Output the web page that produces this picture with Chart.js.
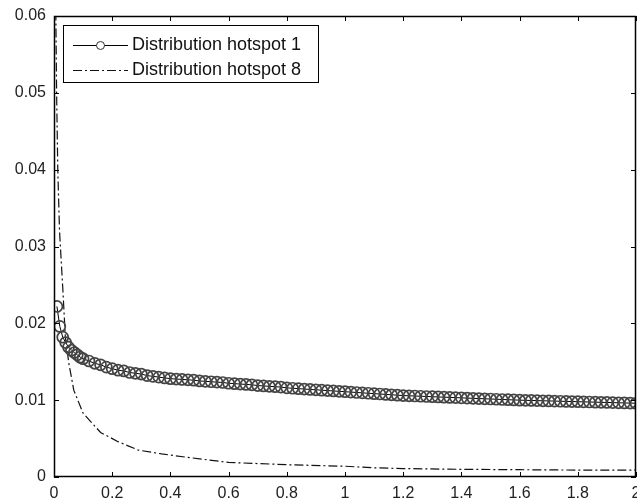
<!DOCTYPE html>
<html>
<head>
<meta charset="utf-8">
<script src="https://cdn.jsdelivr.net/npm/chart.js@4/dist/chart.umd.min.js"></script>
<style>
html,body{margin:0;padding:0;background:#fff;overflow:hidden;}
#wrap{width:637px;height:502px;overflow:hidden;}
</style>
</head>
<body>
<div id="wrap"><canvas id="c" width="637" height="502"></canvas></div>
<script>
// ---- data ----
const seriesNames = ["Distribution hotspot 1", "Distribution hotspot 8"];

const hotspot1X = [0.01,0.02,0.03,0.04,0.05,0.06,0.07,0.08,0.09,0.10,
  0.12,0.14,0.16,0.18,0.20,0.22,0.24,0.26,0.28,0.30,0.32,0.34,0.36,0.38,0.40,
  0.42,0.44,0.46,0.48,0.50,0.52,0.54,0.56,0.58,0.60,0.62,0.64,0.66,0.68,0.70,
  0.72,0.74,0.76,0.78,0.80,0.82,0.84,0.86,0.88,0.90,0.92,0.94,0.96,0.98,1.00,
  1.02,1.04,1.06,1.08,1.10,1.12,1.14,1.16,1.18,1.20,1.22,1.24,1.26,1.28,1.30,
  1.32,1.34,1.36,1.38,1.40,1.42,1.44,1.46,1.48,1.50,1.52,1.54,1.56,1.58,1.60,
  1.62,1.64,1.66,1.68,1.70,1.72,1.74,1.76,1.78,1.80,1.82,1.84,1.86,1.88,1.90,
  1.92,1.94,1.96,1.98,2.00];
const hotspot1Y = [0.0222,0.0196,0.0182,0.0175,0.0169,0.0165,0.0162,0.0159,0.0156,0.0154,
  0.0151,0.0148,0.0146,0.0143,0.0141,0.0139,0.0138,0.0136,0.0135,0.0134,0.0132,0.0131,0.0130,0.0129,0.0128,
  0.01275,0.0127,0.01265,0.0126,0.0125,0.01245,0.0124,0.01235,0.0123,0.0122,0.01215,0.0121,0.01205,0.0120,0.0119,
  0.01185,0.0118,0.01175,0.0117,0.0116,0.01155,0.0115,0.01145,0.0114,0.01135,0.0113,0.01125,0.0112,0.01115,0.0111,
  0.01105,0.0110,0.01095,0.0109,0.01085,0.0108,0.01075,0.0107,0.01065,0.0106,0.01057,0.01054,0.01051,0.01048,0.01045,
  0.01042,0.01039,0.01036,0.01033,0.0103,0.01027,0.01024,0.01021,0.01018,0.01015,0.01012,0.01009,0.01006,0.01003,0.0100,
  0.00998,0.00996,0.00994,0.00992,0.0099,0.00988,0.00986,0.00984,0.00982,0.0098,0.00978,0.00976,0.00974,0.00972,0.0097,
  0.00968,0.00966,0.00964,0.00962,0.0096];

const hotspot8X = [0.005,0.009,0.013,0.019,0.025,0.031,0.039,0.051,0.068,0.10,0.16,0.22,0.29,0.37,0.47,0.60,0.80,1.00,1.10,1.20,1.40,1.60,1.80,2.00];
const hotspot8Y = [0.065,0.050,0.040,0.032,0.028,0.024,0.0182,0.0148,0.0113,0.0083,0.0058,0.0046,0.0035,0.0030,0.0025,0.0019,0.0016,0.0014,0.0012,0.0011,0.0010,0.00095,0.0009,0.0009];

const xTicks = [0,0.2,0.4,0.6,0.8,1,1.2,1.4,1.6,1.8,2];
const xTickLabels = ["0","0.2","0.4","0.6","0.8","1","1.2","1.4","1.6","1.8","2"];
const yTicks = [0,0.01,0.02,0.03,0.04,0.05,0.06];
const yTickLabels = ["0","0.01","0.02","0.03","0.04","0.05","0.06"];

const dashDot = [9,3,2,3];
const tickFont = {family:"'Liberation Sans', Arial, sans-serif", size:16};
const legendFont = "18px 'Liberation Sans', Arial, sans-serif";

const frameTicks = {
  id:'frameTicks',
  afterDatasetsDraw(chart){
    const {ctx, chartArea:a, scales:{x,y}} = chart;
    ctx.save();
    ctx.strokeStyle = '#000';
    ctx.lineWidth = 1;
    ctx.beginPath();
    const L = 5;
    xTicks.forEach(v=>{
      const px = Math.round(x.getPixelForValue(v))+0.5;
      ctx.moveTo(px, a.bottom); ctx.lineTo(px, a.bottom-L);
      ctx.moveTo(px, a.top); ctx.lineTo(px, a.top+L);
    });
    yTicks.forEach(v=>{
      const py = Math.round(y.getPixelForValue(v))+0.5;
      ctx.moveTo(a.left, py); ctx.lineTo(a.left+L, py);
      ctx.moveTo(a.right, py); ctx.lineTo(a.right-L, py);
    });
    ctx.stroke();
    ctx.lineWidth = 1.5;
    ctx.strokeRect(a.left+0.5, a.top+0.5, a.right-a.left-1, a.bottom-a.top-1);
    // legend
    const bx=63.5, by=25.5, bw=255, bh=57;
    ctx.fillStyle='#fff';
    ctx.fillRect(bx,by,bw,bh);
    ctx.lineWidth=1;
    ctx.strokeStyle='#000';
    ctx.strokeRect(bx,by,bw,bh);
    const rows=[45,70];
    ctx.font = legendFont;
    ctx.textBaseline='middle';
    ctx.fillStyle='#111';
    chart.data.datasets.forEach((ds,i)=>{
      const ry = rows[i]+0.5;
      ctx.save();
      ctx.strokeStyle = ds.borderColor;
      ctx.lineWidth = ds.borderWidth;
      ctx.setLineDash(ds.borderDash||[]);
      ctx.beginPath(); ctx.moveTo(73,ry); ctx.lineTo(128,ry); ctx.stroke();
      ctx.restore();
      if (ds.pointRadius>0){
        ctx.beginPath(); ctx.arc(100.5,ry,4,0,Math.PI*2);
        ctx.fillStyle='#fff'; ctx.fill();
        ctx.strokeStyle='#333'; ctx.lineWidth=1; ctx.stroke();
        ctx.fillStyle='#111';
      }
      ctx.fillText(ds.label, 132, ry);
    });
    ctx.restore();
  }
};

new Chart(document.getElementById('c'), {
  type:'scatter',
  data:{
    datasets:[
      {label:seriesNames[0], data:hotspot1X.map((v,i)=>({x:v,y:hotspot1Y[i]})),
       showLine:true, borderColor:'#000', borderWidth:1, pointRadius:5.5, pointBorderColor:'#444',
       pointBackgroundColor:'rgba(0,0,0,0)', pointBorderWidth:1.7, order:1},
      {label:seriesNames[1], data:hotspot8X.map((v,i)=>({x:v,y:hotspot8Y[i]})),
       showLine:true, borderColor:'#111', borderWidth:1.2, borderDash:dashDot, pointRadius:0, order:2}
    ]
  },
  options:{
    responsive:false, animation:false, devicePixelRatio:1,
    layout:{autoPadding:false, padding:{top:16,right:1,left:0,bottom:0}},
    plugins:{legend:{display:false}, tooltip:{enabled:false}},
    scales:{
      x:{type:'linear', min:0, max:2,
        afterBuildTicks(s){ s.ticks = xTicks.map(v=>({value:v})); },
        afterFit(s){ s.height = 25; s.paddingLeft=0; s.paddingRight=0; },
        grid:{display:false, drawTicks:false}, border:{display:false},
        ticks:{font:tickFont, color:'#222', padding:7, maxRotation:0, autoSkip:false,
          callback:(v)=>{const k=xTicks.indexOf(v); return k>=0?xTickLabels[k]:'';}}},
      y:{type:'linear', min:0, max:0.06,
        afterBuildTicks(s){ s.ticks = yTicks.map(v=>({value:v})); },
        afterFit(s){ s.width = 54; s.paddingTop=0; s.paddingBottom=0; },
        grid:{display:false, drawTicks:false}, border:{display:false},
        ticks:{font:tickFont, color:'#222', padding:8, autoSkip:false,
          callback:(v)=>{const k=yTicks.indexOf(v); return k>=0?yTickLabels[k]:'';}}}
    }
  },
  plugins:[frameTicks]
});
</script>
</body>
</html>
